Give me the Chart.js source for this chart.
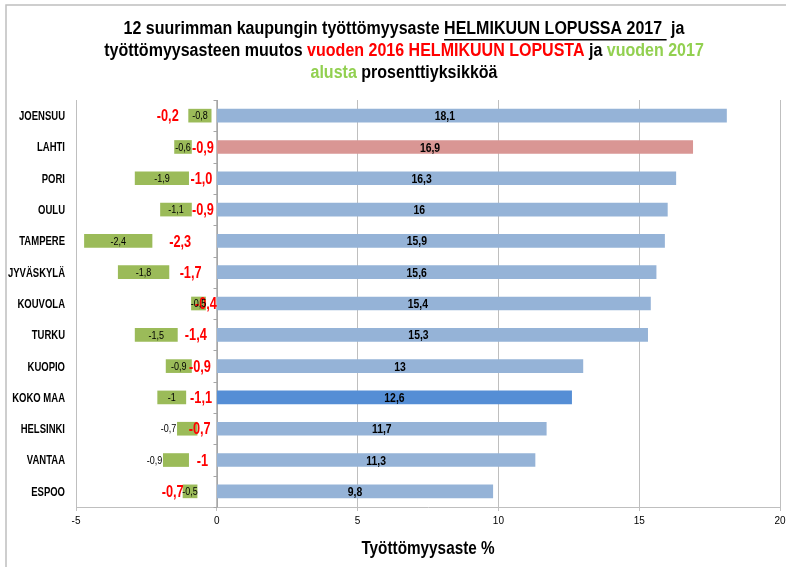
<!DOCTYPE html>
<html>
<head>
<meta charset="utf-8">
<script src="https://cdn.jsdelivr.net/npm/chart.js@4.4.1/dist/chart.umd.min.js"></script>
<style>
  html, body { margin: 0; padding: 0; background: #fff; }
  #wrap { width: 786px; height: 567px; position: relative; }
</style>
</head>
<body>
<div id="wrap"><canvas id="chart" width="786" height="567"></canvas></div>
<script>
// data
const cities = ['JOENSUU', 'LAHTI', 'PORI', 'OULU', 'TAMPERE', 'JYVÄSKYLÄ', 'KOUVOLA', 'TURKU', 'KUOPIO', 'KOKO MAA', 'HELSINKI', 'VANTAA', 'ESPOO'];
const rateFeb2017 = [18.1, 16.9, 16.3, 16, 15.9, 15.6, 15.4, 15.3, 13, 12.6, 11.7, 11.3, 9.8];
const changeSinceFeb2016 = [-0.2, -0.9, -1.0, -0.9, -2.3, -1.7, -0.4, -1.4, -0.9, -1.1, -0.7, -1, -0.7];
const changeSinceFeb2016Text = ['-0,2', '-0,9', '-1,0', '-0,9', '-2,3', '-1,7', '-0,4', '-1,4', '-0,9', '-1,1', '-0,7', '-1', '-0,7'];
const changeSinceStart2017 = [-0.8, -0.6, -1.9, -1.1, -2.4, -1.8, -0.5, -1.5, -0.9, -1, -0.7, -0.9, -0.5];
const xTicks = [-5, 0, 5, 10, 15, 20];

const FONT = '"Liberation Sans", Arial, sans-serif';
Chart.defaults.font.family = FONT;

const blue = '#95b3d7', pink = '#d99694', darkBlue = '#558ed5', green = '#9bbb59';
const barColors = cities.map(c => c === 'LAHTI' ? pink : (c === 'KOKO MAA' ? darkBlue : blue));

// manual label nudges (px) like in the original sheet
const blueShift = [-27, -25, -25, -23, -24, -20, -16, -14, 0, 0, 0, 0, 0];
const redShift = [-46, -1, -1, -1, -4, -2, -5, -1, -4, 0, -7, 0, -34];
const greenOutside = ['HELSINKI', 'VANTAA'];

const fmt = v => String(v).replace('.', ',');

// narrow text: the original uses narrow fonts that are not installed
function narrowText(ctx, txt, x, y, font, color, align, sx) {
    ctx.save();
    ctx.font = font;
    ctx.fillStyle = color;
    ctx.textAlign = align;
    ctx.textBaseline = 'middle';
    ctx.translate(x, y);
    ctx.scale(sx, 1);
    ctx.fillText(txt, 0, 0);
    ctx.restore();
}

// title with coloured parts
const titleLines = [
    [{ t: '12 suurimman kaupungin työttömyysaste ', c: '#000' }, { t: 'HELMIKUUN LOPUSSA 2017 ', c: '#000', u: true }, { t: ' ja', c: '#000' }],
    [{ t: 'työttömyysasteen muutos ', c: '#000' }, { t: 'vuoden 2016 HELMIKUUN LOPUSTA', c: '#ff0000' }, { t: ' ja ', c: '#000' }, { t: 'vuoden 2017', c: '#92d050' }],
    [{ t: 'alusta', c: '#92d050' }, { t: ' prosenttiyksikköä', c: '#000' }]
];
const TITLE_SX = 0.89;

const decorPlugin = {
    id: 'decor',
    beforeDraw(chart) {
        const ctx = chart.ctx;
        ctx.save();
        ctx.strokeStyle = '#bfbfbf';
        ctx.lineWidth = 1.5;
        ctx.strokeRect(6, 5, 800, 600);
        // title
        const tf = 'bold 18px ' + FONT;
        ctx.font = tf;
        const ys = [29, 51, 73];
        titleLines.forEach((line, i) => {
            const w = line.reduce((s, r) => s + ctx.measureText(r.t).width, 0) * TITLE_SX;
            let x = 404 - w / 2;
            line.forEach(r => {
                ctx.font = tf;
                const rw = ctx.measureText(r.t).width * TITLE_SX;
                narrowText(ctx, r.t, x, ys[i], tf, r.c, 'left', TITLE_SX);
                if (r.u) {
                    ctx.fillStyle = r.c;
                    ctx.fillRect(x, ys[i] + 10, rw, 1.5);
                }
                x += rw;
            });
        });
        ctx.restore();
    },
    beforeDatasetsDraw(chart) {
        // zero line with category ticks
        const ctx = chart.ctx;
        const xs = chart.scales.x;
        const x0 = Math.round(xs.getPixelForValue(0)) + 0.5;
        const top = chart.chartArea.top, bottom = chart.chartArea.bottom;
        ctx.save();
        ctx.strokeStyle = '#a6a6a6';
        ctx.lineWidth = 1;
        ctx.beginPath();
        ctx.moveTo(x0, top);
        ctx.lineTo(x0, bottom);
        const step = (bottom - top) / cities.length;
        for (let i = 0; i <= cities.length; i++) {
            const y = Math.round(top + i * step) + 0.5;
            ctx.moveTo(x0 - 4, y);
            ctx.lineTo(x0, y);
        }
        ctx.stroke();
        ctx.restore();
    },
    afterDatasetsDraw(chart) {
        const ctx = chart.ctx;
        const ys = chart.scales.y;
        // category labels
        cities.forEach((c, i) => {
            narrowText(ctx, c, 65, ys.getPixelForValue(i) + 1, 'bold 12.5px ' + FONT, '#000', 'right', 0.76);
        });
        // blue bars
        chart.getDatasetMeta(0).data.forEach((el, i) => {
            narrowText(ctx, fmt(rateFeb2017[i]), (el.x + el.base) / 2 + blueShift[i], el.y + 1,
                'bold 13px ' + FONT, '#000', 'center', 0.8);
        });
        // red (change since Feb 2016)
        chart.getDatasetMeta(1).data.forEach((el, i) => {
            narrowText(ctx, changeSinceFeb2016Text[i], (el.x + el.base) / 2 + redShift[i], el.y + 1,
                'bold 17px ' + FONT, '#ff0000', 'center', 0.75);
        });
        // green (change since start of 2017)
        chart.getDatasetMeta(2).data.forEach((el, i) => {
            const txt = fmt(changeSinceStart2017[i]);
            if (greenOutside.includes(cities[i])) {
                narrowText(ctx, txt, Math.min(el.x, el.base) - 1, el.y + 1, '10px ' + FONT, '#000', 'right', 0.9);
            } else {
                narrowText(ctx, txt, (el.x + el.base) / 2, el.y + 1, '10px ' + FONT, '#000', 'center', 0.9);
            }
        });
        // axis title
        narrowText(ctx, 'Työttömyysaste %', (chart.chartArea.left + chart.chartArea.right) / 2, 549,
            'bold 18px ' + FONT, '#000', 'center', 0.85);
    }
};

const ctx = document.getElementById('chart').getContext('2d');
const chart = new Chart(ctx, {
    type: 'bar',
    data: {
        labels: cities,
        datasets: [
            {
                label: 'Työttömyysaste helmikuun lopussa 2017',
                data: rateFeb2017,
                backgroundColor: barColors,
                barThickness: 13
            },
            {
                label: 'Muutos vuoden 2016 helmikuun lopusta',
                data: changeSinceFeb2016,
                backgroundColor: 'rgba(0,0,0,0)',
                barThickness: 13
            },
            {
                label: 'Muutos vuoden 2017 alusta',
                data: changeSinceStart2017,
                backgroundColor: green,
                barThickness: 13
            }
        ]
    },
    options: {
        indexAxis: 'y',
        responsive: false,
        animation: false,
        layout: { padding: { top: 100, left: 8, right: 6, bottom: 0 } },
        plugins: {
            legend: { display: false },
            tooltip: { enabled: false }
        },
        scales: {
            x: {
                stacked: true,
                min: -5,
                max: 20,
                afterBuildTicks: scale => { scale.ticks = xTicks.map(v => ({ value: v })); },
                ticks: { font: { size: 10 }, color: '#000', padding: 4 },
                grid: { color: '#bfbfbf', lineWidth: 1, tickLength: 4 },
                border: { color: '#bfbfbf' },
                afterFit: scale => {
                    scale.height = 60;
                    scale.paddingLeft = 0;
                    scale.paddingRight = 0;
                }
            },
            y: {
                stacked: true,
                ticks: { display: false },
                grid: { display: false, drawTicks: false },
                border: { display: false },
                afterFit: scale => { scale.width = 68; }
            }
        }
    },
    plugins: [decorPlugin]
});
</script>
</body>
</html>
